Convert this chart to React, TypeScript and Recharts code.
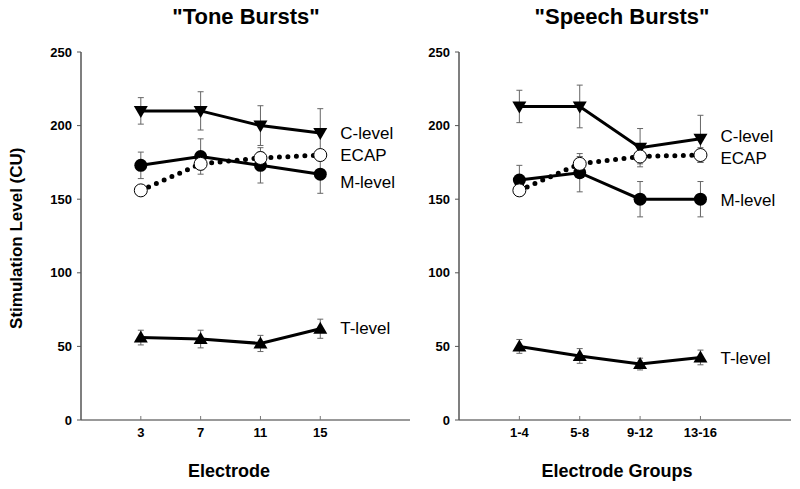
import React from 'react';
import { LineChart, Line, XAxis, YAxis, ErrorBar } from 'recharts';

// Tone bursts (single electrodes)
const toneLabels = ['3', '7', '11', '15'];
const toneC = [210, 210, 200, 195];
const toneCErr = [9, 13, 13.5, 16.5];
const toneM = [173, 179, 173, 167];
const toneMErr = [9, 12, 12, 13];
const toneEcap = [156, 174, 178, 180];
const toneEcapErr = [3, 4, 4, 3];
const toneT = [56, 55, 52, 62];
const toneTErr = [5, 6, 5.5, 6.5];

// Speech bursts (electrode groups)
const speechLabels = ['1-4', '5-8', '9-12', '13-16'];
const speechC = [213, 213, 185, 191];
const speechCErr = [11, 14.5, 13, 16];
const speechM = [163, 168, 150, 150];
const speechMErr = [10, 13, 12, 12];
const speechEcap = [156, 174, 179, 180];
const speechEcapErr = [3, 5, 5, 5];
const speechT = [50, 43.5, 38, 42.5];
const speechTErr = [4.7, 5, 4, 5];

const yTicks = [0, 50, 100, 150, 200, 250];
const FONT = '"Liberation Sans", Arial, Helvetica, sans-serif';

const triDown = (props: any) => {
    const { cx, cy, index } = props;
    return <path key={`d${index}`} d={`M${cx - 7},${cy - 5} L${cx + 7},${cy - 5} L${cx},${cy + 7} Z`} fill="#000" />;
};
const triUp = (props: any) => {
    const { cx, cy, index } = props;
    return <path key={`u${index}`} d={`M${cx - 7},${cy + 5} L${cx + 7},${cy + 5} L${cx},${cy - 7} Z`} fill="#000" />;
};
const filledDot = (props: any) => <circle key={`f${props.index}`} cx={props.cx} cy={props.cy} r={6.5} fill="#000" />;
const openDot = (props: any) => (
    <circle key={`o${props.index}`} cx={props.cx} cy={props.cy} r={6.5} fill="#fff" stroke="#000" strokeWidth={1} />
);

const endLabel = (text: string, dy: number) => (props: any) => {
    const { x, y, index } = props;
    if (index !== 3) return null;
    return (
        <text x={x + 20} y={y + dy} dominantBaseline="central" fontFamily={FONT} fontSize={17} fill="#000">
            {text}
        </text>
    );
};

interface PanelProps {
    left: number;
    width: number;
    marginLeft: number;
    marginRight: number;
    labels: string[];
    c: number[]; cErr: number[];
    m: number[]; mErr: number[];
    ecap: number[]; ecapErr: number[];
    t: number[]; tErr: number[];
    labelDy: number[];
}

const Panel: React.FC<PanelProps> = (p) => {
    const data = p.labels.map((name, i) => ({
        i, name,
        c: p.c[i], cErr: p.cErr[i],
        m: p.m[i], mErr: p.mErr[i],
        ecap: p.ecap[i], ecapErr: p.ecapErr[i],
        t: p.t[i], tErr: p.tErr[i],
    }));
    const bottomTick = (props: any) => {
        const { x, y, payload } = props;
        return (
            <g>
                <line x1={x} x2={x} y1={y - 8} y2={y - 12} stroke="#777" strokeWidth={1} />
                <text x={x} y={y} dy="0.71em" textAnchor="middle" fontFamily={FONT} fontWeight="bold" fontSize={13} fill="#000">
                    {p.labels[payload.value]}
                </text>
            </g>
        );
    };
    const topTick = (props: any) => {
        const { x, y } = props;
        return <line x1={x} x2={x} y1={y} y2={y + 4} stroke="#999" strokeWidth={1} />;
    };
    const rightTick = (props: any) => {
        const { x, y } = props;
        return <line x1={x} x2={x - 4} y1={y} y2={y} stroke="#999" strokeWidth={1} />;
    };
    return (
        <div style={{ position: 'absolute', left: p.left, top: 0 }}>
            <LineChart width={p.width} height={489} data={data}
                margin={{ top: 52, right: p.marginRight, bottom: 39, left: p.marginLeft }}>
                <XAxis dataKey="i" type="number" domain={[-1, 4.5]} ticks={[0, 1, 2, 3]} allowDataOverflow
                    height={30} tickSize={0} tickMargin={8} tickLine={false} tick={bottomTick}
                    axisLine={{ stroke: '#777', strokeWidth: 1.5 }} />
                <XAxis xAxisId="top" orientation="top" dataKey="i" type="number" domain={[-1, 4.5]}
                    ticks={[0, 1, 2, 3]} allowDataOverflow height={0} tickSize={0} tickMargin={0}
                    tickLine={false} tick={topTick} axisLine={{ stroke: '#999', strokeWidth: 2 }} />
                <YAxis type="number" domain={[0, 250]} ticks={yTicks} width={40} tickSize={4} tickMargin={5}
                    tickLine={{ stroke: '#555' }} axisLine={{ stroke: '#555', strokeWidth: 1.5 }}
                    tick={{ fontFamily: FONT, fontWeight: 'bold', fontSize: 13, fill: '#000' }} />
                <YAxis yAxisId="r" orientation="right" type="number" domain={[0, 250]} ticks={yTicks} width={0}
                    tickSize={0} tickMargin={0} tickLine={false} tick={rightTick}
                    axisLine={{ stroke: '#999', strokeWidth: 2 }} />
                <Line dataKey="c" stroke="#000" strokeWidth={3} dot={triDown} activeDot={false}
                    isAnimationActive={false} label={endLabel('C-level', p.labelDy[0])}>
                    <ErrorBar dataKey="cErr" width={3} stroke="#666" strokeWidth={1} />
                </Line>
                <Line dataKey="m" stroke="#000" strokeWidth={3} dot={filledDot} activeDot={false}
                    isAnimationActive={false} label={endLabel('M-level', p.labelDy[2])}>
                    <ErrorBar dataKey="mErr" width={3} stroke="#666" strokeWidth={1} />
                </Line>
                <Line dataKey="t" stroke="#000" strokeWidth={3} dot={triUp} activeDot={false}
                    isAnimationActive={false} label={endLabel('T-level', p.labelDy[3])}>
                    <ErrorBar dataKey="tErr" width={3} stroke="#666" strokeWidth={1} />
                </Line>
                <Line dataKey="ecap" stroke="#000" strokeWidth={5} strokeDasharray="0 8.5" strokeLinecap="round"
                    dot={openDot} activeDot={false} isAnimationActive={false} label={endLabel('ECAP', p.labelDy[1])}>
                    <ErrorBar dataKey="ecapErr" width={3} stroke="#666" strokeWidth={1} />
                </Line>
            </LineChart>
        </div>
    );
};

const textStyle = (cx: number, cy: number, size: number): React.CSSProperties => ({
    position: 'absolute', left: cx - 150, top: cy - size * 0.6, width: 300, textAlign: 'center',
    fontFamily: FONT, fontWeight: 'bold', fontSize: size, lineHeight: `${size * 1.2}px`, color: '#000',
    whiteSpace: 'nowrap',
});

export default function App() {
    return (
        <div style={{ position: 'absolute', left: 0, top: 0, width: 800, height: 489, background: '#fff', overflow: 'hidden' }}>
            <Panel left={0} width={412} marginLeft={41} marginRight={2} labels={toneLabels}
                c={toneC} cErr={toneCErr} m={toneM} mErr={toneMErr} ecap={toneEcap} ecapErr={toneEcapErr}
                t={toneT} tErr={toneTErr} labelDy={[1, 0, 8, 0]} />
            <Panel left={400} width={400} marginLeft={19} marginRight={9} labels={speechLabels}
                c={speechC} cErr={speechCErr} m={speechM} mErr={speechMErr} ecap={speechEcap} ecapErr={speechEcapErr}
                t={speechT} tErr={speechTErr} labelDy={[-2, 3, 1, 1]} />
            <div style={textStyle(246, 17, 22)}>"Tone Bursts"</div>
            <div style={textStyle(622, 17, 22)}>"Speech Bursts"</div>
            <div style={textStyle(229, 472, 18)}>Electrode</div>
            <div style={textStyle(617, 472, 18)}>Electrode Groups</div>
            <div style={{ ...textStyle(17, 238, 17), transform: 'rotate(-90deg)' }}>Stimulation Level (CU)</div>
        </div>
    );
}
